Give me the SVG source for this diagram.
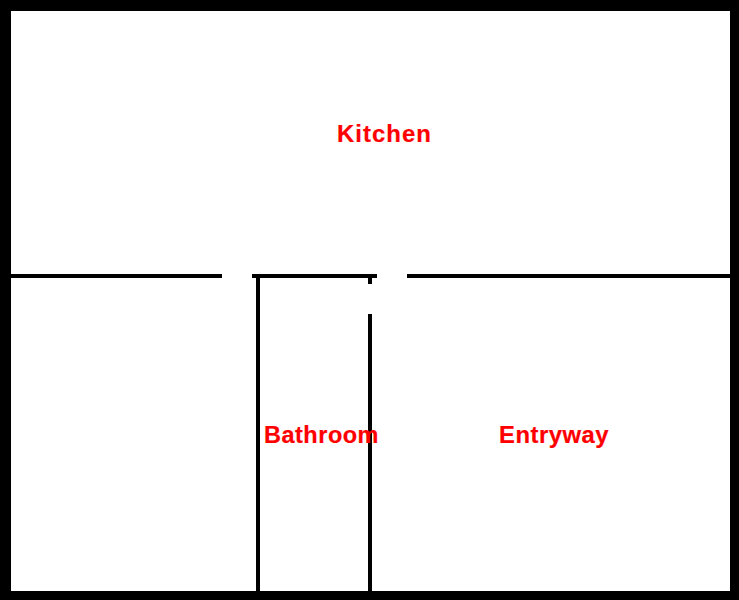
<svg xmlns="http://www.w3.org/2000/svg" width="739" height="600" viewBox="0 0 739 600">
<style>
.wall{fill:#000;shape-rendering:crispEdges}
.room{fill:#f00;stroke:#f00;stroke-width:0.2;font-family:"Liberation Sans",Arial,sans-serif;font-weight:bold;font-size:23px}
</style>
<rect width="739" height="600" fill="#fff"/>
<g id="walls">
<rect class="wall" x="0" y="0" width="739" height="11"/>
<rect class="wall" x="0" y="591" width="739" height="9"/>
<rect class="wall" x="0" y="0" width="11" height="600"/>
<rect class="wall" x="730" y="0" width="9" height="600"/>
<rect class="wall" x="11" y="274" width="211" height="4"/>
<rect class="wall" x="252" y="274" width="125" height="4"/>
<rect class="wall" x="407" y="274" width="323" height="4"/>
<rect class="wall" x="256" y="278" width="4" height="313"/>
<rect class="wall" x="368" y="278" width="4" height="6"/>
<rect class="wall" x="368" y="314" width="4" height="277"/>
</g>
<g id="labels">
<text class="room" x="337" y="142" letter-spacing="1" textLength="95" lengthAdjust="spacingAndGlyphs">Kitchen</text>
<text class="room" x="264" y="443" letter-spacing="0.5" textLength="115" lengthAdjust="spacingAndGlyphs">Bathroom</text>
<text class="room" x="499" y="443" letter-spacing="0.5" textLength="110" lengthAdjust="spacingAndGlyphs">Entryway</text>
</g>
</svg>
